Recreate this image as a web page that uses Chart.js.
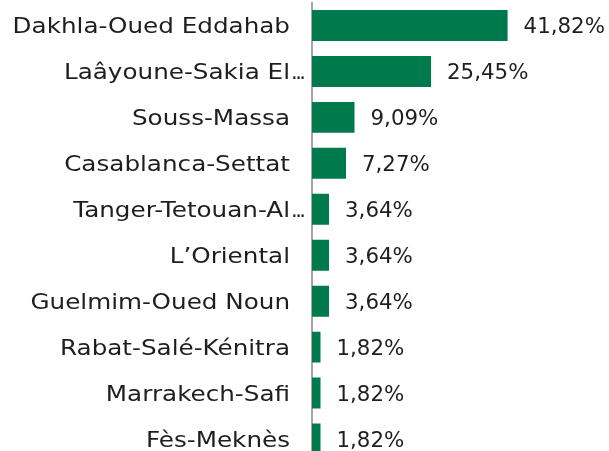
<!DOCTYPE html>
<html><head><meta charset="utf-8">
<script src="https://cdn.jsdelivr.net/npm/chart.js@4"></script>
<style>html,body{margin:0;padding:0;background:#fff;overflow:hidden;width:609px;height:451px}</style>
</head><body><canvas id="c" width="609" height="462" style="display:block;width:609px;height:462px"></canvas>
<script>
const categories = ["Dakhla-Oued Eddahab","Laâyoune-Sakia El…","Souss-Massa","Casablanca-Settat","Tanger-Tetouan-Al…","L’Oriental","Guelmim-Oued Noun","Rabat-Salé-Kénitra","Marrakech-Safi","Fès-Meknès"];
const values = [41.82,25.45,9.09,7.27,3.64,3.64,3.64,1.82,1.82,1.82];
const valueLabels = ["41,82%","25,45%","9,09%","7,27%","3,64%","3,64%","3,64%","1,82%","1,82%","1,82%"];
const FONT = "'DejaVu Sans', sans-serif";
const SX = 1.12;
const labelPlugin = {
  id:'labels',
  afterDraw(chart){
    const ctx = chart.ctx;
    const ys = chart.scales.y;
    ctx.save();
    ctx.fillStyle = "#1e1e1e";
    ctx.textBaseline = "alphabetic";
    const right = ys.right - 22;
    categories.forEach((lab,i)=>{
      const y = ys.getPixelForTick(i) + 8;
      const trunc = lab.endsWith("…");
      const base = trunc ? lab.slice(0,-1) : lab;
      ctx.save();
      ctx.translate(right, y);
      ctx.scale(SX, 1);
      ctx.font = "22px " + FONT;
      ctx.letterSpacing = "0px";
      ctx.textAlign = "right";
      ctx.fillText(base, 0, 0);
      ctx.restore();
      if (trunc) {
        ctx.save();
        ctx.font = "21px " + FONT;
        ctx.letterSpacing = "-2.5px";
        ctx.textAlign = "left";
        ctx.fillText("...", right + 1, y);
        ctx.restore();
      }
    });
    ctx.restore();
  },
  afterDatasetsDraw(chart){
    const ctx = chart.ctx;
    const meta = chart.getDatasetMeta(0);
    ctx.save();
    ctx.letterSpacing = "0px";
    ctx.font = "22px " + FONT;
    ctx.fillStyle = "#1e1e1e";
    ctx.textAlign = "left";
    ctx.textBaseline = "alphabetic";
    meta.data.forEach((bar,i)=>{
      ctx.save();
      ctx.translate(bar.x + 16, bar.y + 8);
      ctx.scale(0.97, 1);
      ctx.fillText(valueLabels[i], 0, 0);
      ctx.restore();
    });
    ctx.restore();
  }
};
new Chart(document.getElementById('c'),{
  type:'bar',
  data:{labels:categories,datasets:[{data:values,backgroundColor:'#007A4D',barPercentage:0.674,categoryPercentage:1}]},
  options:{
    indexAxis:'y',responsive:false,maintainAspectRatio:false,animation:false,devicePixelRatio:1,
    layout:{padding:{top:2.5,left:0,right:0,bottom:0}},
    plugins:{legend:{display:false},tooltip:{enabled:false}},
    scales:{
      x:{display:false,min:0,max:63.5},
      y:{
        afterFit(s){s.width=312;s.paddingTop=0;s.paddingBottom=0;},
        grid:{display:false,drawTicks:false},
        border:{display:true,color:'#a6a6a6',width:2},
        ticks:{display:false,padding:21,font:{family:FONT,size:22}}
      }
    }
  },
  plugins:[labelPlugin]
});
</script></body></html>
